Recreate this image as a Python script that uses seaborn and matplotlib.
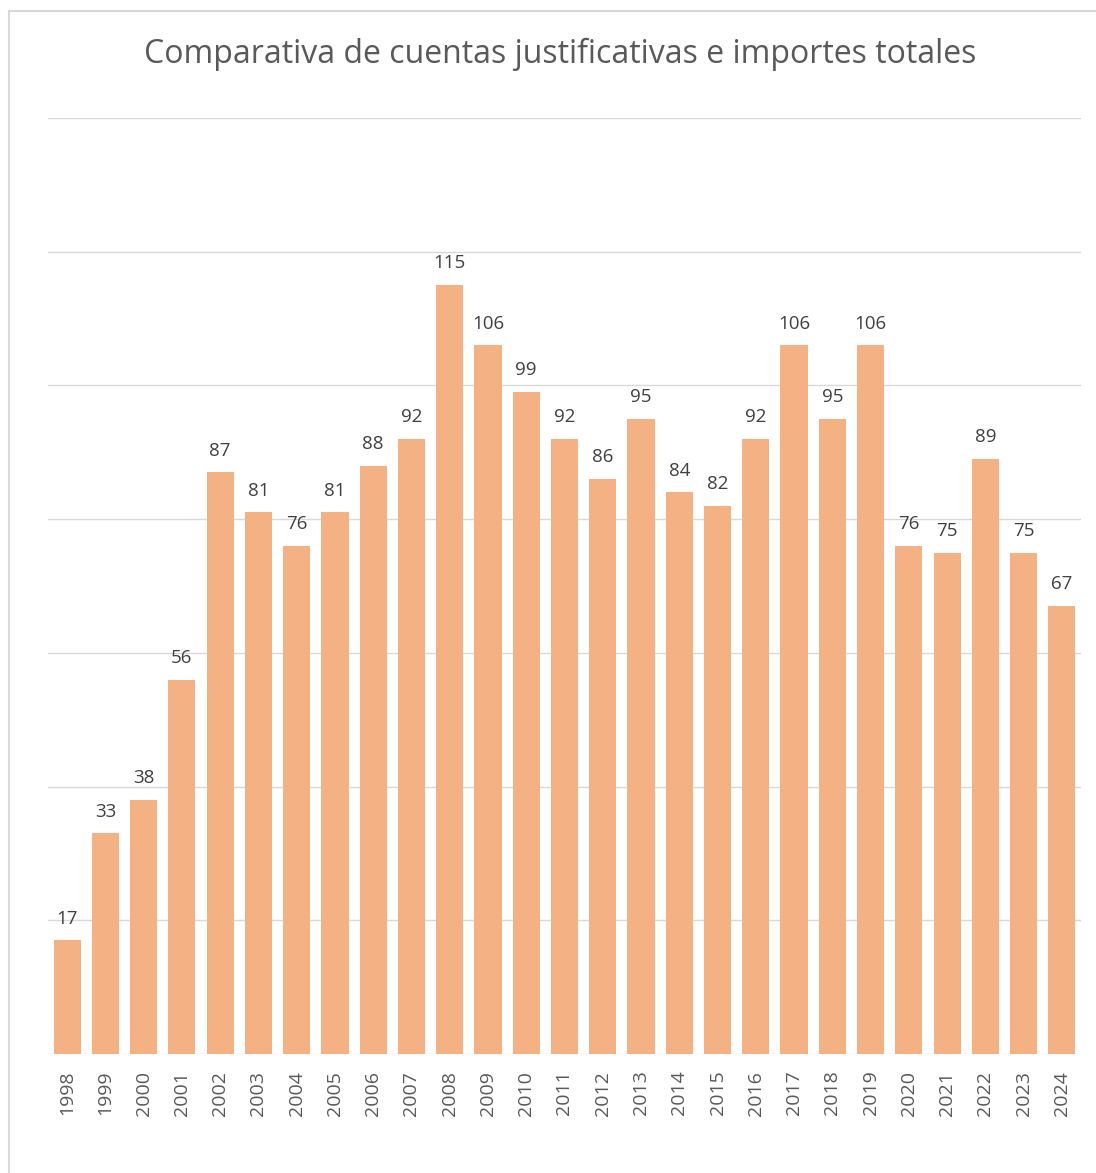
import matplotlib
matplotlib.use('Agg')
import matplotlib.pyplot as plt
import seaborn as sns
import pandas as pd
from matplotlib.patches import Rectangle

# Datos del gráfico
years = ['1998', '1999', '2000', '2001', '2002', '2003', '2004', '2005', '2006',
         '2007', '2008', '2009', '2010', '2011', '2012', '2013', '2014', '2015',
         '2016', '2017', '2018', '2019', '2020', '2021', '2022', '2023', '2024']
cuentas = [17, 33, 38, 56, 87, 81, 76, 81, 88, 92, 115, 106, 99, 92, 86, 95,
           84, 82, 92, 106, 95, 106, 76, 75, 89, 75, 67]
title = 'Comparativa de cuentas justificativas e importes totales'

W, H = 1096, 1173


def plot_cuentas(output_path):
    sns.set_style('white')
    plt.rcParams['font.family'] = ['Open Sans', 'DejaVu Sans']

    df = pd.DataFrame({'year': years, 'cuentas': cuentas})

    fig = plt.figure(figsize=(W / 100, H / 100), dpi=100)
    # borde del gráfico
    fig.patches.append(Rectangle((9 / W, -0.05), 1.1, 1 - 11 / H + 0.05,
                                 transform=fig.transFigure, fill=False,
                                 edgecolor='#D9D9D9', linewidth=1.5))

    ax = fig.add_axes([48 / W, 119 / H, 1033 / W, 936 / H])
    sns.barplot(data=df, x='year', y='cuentas', color='#F4B183', saturation=1,
                width=0.71, linewidth=0, ax=ax)

    ax.set_ylim(0, 140)
    ax.set_xlim(-0.5, len(years) - 0.5)
    ax.set_yticks(range(0, 141, 20))
    ax.set_yticklabels([])
    ax.yaxis.grid(True, color='#D9D9D9', linewidth=1)
    ax.set_axisbelow(True)
    for s in ax.spines.values():
        s.set_visible(False)
    ax.tick_params(axis='both', length=0)
    ax.tick_params(axis='x', pad=12, labelsize=14, labelcolor='#595959',
                   labelrotation=90)
    ax.set_xlabel('')
    ax.set_ylabel('')

    for i, v in enumerate(cuentas):
        ax.annotate(str(v), (i, v), xytext=(0, 12), textcoords='offset points',
                    ha='center', va='baseline', fontsize=13.5, color='#404040')

    fig.text(560 / W, 1 - 54 / H, title, ha='center', va='center',
             fontsize=23, color='#595959')

    fig.savefig(output_path, dpi=100)
    plt.close(fig)


if __name__ == "__main__":
    plot_cuentas('out.png')
